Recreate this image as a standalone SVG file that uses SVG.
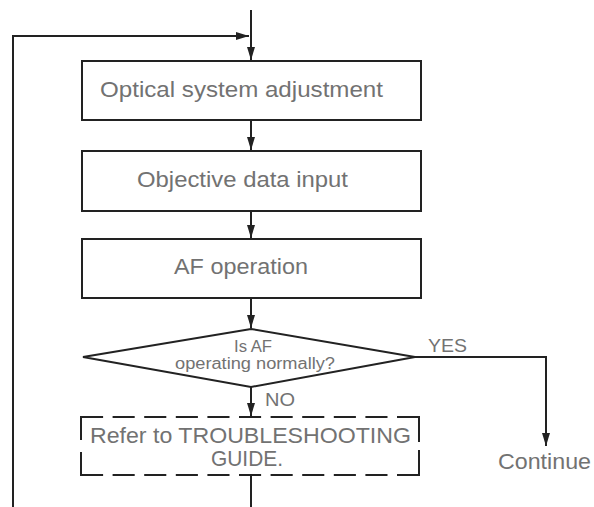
<svg xmlns="http://www.w3.org/2000/svg" width="594" height="507" viewBox="0 0 594 507">
<style>
.box{fill:#fff;stroke:#222;stroke-width:2}
.dash{stroke:#222;stroke-width:2;fill:none}
.conn{stroke:#222;stroke-width:2;fill:none}
text{font-family:"Liberation Sans",Arial,sans-serif;fill:#727272}
.t22{font-size:22px}
.t19{font-size:19px}
.t16{font-size:16px}
</style>
<defs>
<marker id="arr" markerUnits="userSpaceOnUse" markerWidth="14" markerHeight="9" refX="13" refY="4.5" orient="auto">
<path d="M0,0.5 L13,4.5 L0,8.5 z" fill="#222"/>
</marker>
</defs>
<rect width="594" height="507" fill="#fff"/>
<g id="connectors">
<path class="conn" d="M251,10 V60" marker-end="url(#arr)"/>
<path class="conn" d="M13,507 V36 H249" marker-end="url(#arr)"/>
<path class="conn" d="M251,120 V150" marker-end="url(#arr)"/>
<path class="conn" d="M251,211 V238" marker-end="url(#arr)"/>
<path class="conn" d="M251,298 V328" marker-end="url(#arr)"/>
<path class="conn" d="M251,387 V416" marker-end="url(#arr)"/>
<path class="conn" d="M415,357 H546 V446" marker-end="url(#arr)"/>
<path class="conn" d="M251,475 V507"/>
</g>
<g id="optical">
<rect class="box" x="82" y="61" width="339" height="59"/>
<text class="t22" x="100" y="97" textLength="283" lengthAdjust="spacingAndGlyphs">Optical system adjustment</text>
</g>
<g id="objective">
<rect class="box" x="82" y="151" width="339" height="60"/>
<text class="t22" x="137" y="187" textLength="211" lengthAdjust="spacingAndGlyphs">Objective data input</text>
</g>
<g id="af">
<rect class="box" x="82" y="239" width="339" height="59"/>
<text class="t22" x="174" y="274" textLength="134" lengthAdjust="spacingAndGlyphs">AF operation</text>
</g>
<g id="decision">
<polygon class="box" points="251,329 415,357 251,387 83,357"/>
<text class="t16" x="234" y="352" textLength="38" lengthAdjust="spacingAndGlyphs">Is AF</text>
<text class="t16" x="175" y="369" textLength="160" lengthAdjust="spacingAndGlyphs">operating normally?</text>
</g>
<g id="yes-label">
<text class="t19" x="428" y="352" textLength="39" lengthAdjust="spacingAndGlyphs">YES</text>
</g>
<g id="no-label">
<text class="t19" x="265" y="406" textLength="30" lengthAdjust="spacingAndGlyphs">NO</text>
</g>
<g id="troubleshooting">
<line class="dash" x1="81" y1="417" x2="419" y2="417" stroke-dasharray="22.1 9.5"/>
<line class="dash" x1="81" y1="475" x2="419" y2="475" stroke-dasharray="22.1 9.5"/>
<line class="dash" x1="81" y1="416" x2="81" y2="476" stroke-dasharray="24 12"/>
<line class="dash" x1="419" y1="416" x2="419" y2="476" stroke-dasharray="26 8"/>
<text class="t22" x="90" y="443" textLength="321" lengthAdjust="spacingAndGlyphs">Refer to TROUBLESHOOTING</text>
<text class="t22" x="211" y="466" textLength="72" lengthAdjust="spacingAndGlyphs">GUIDE.</text>
</g>
<g id="continue">
<text class="t22" x="498" y="469" textLength="93" lengthAdjust="spacingAndGlyphs">Continue</text>
</g>
</svg>
